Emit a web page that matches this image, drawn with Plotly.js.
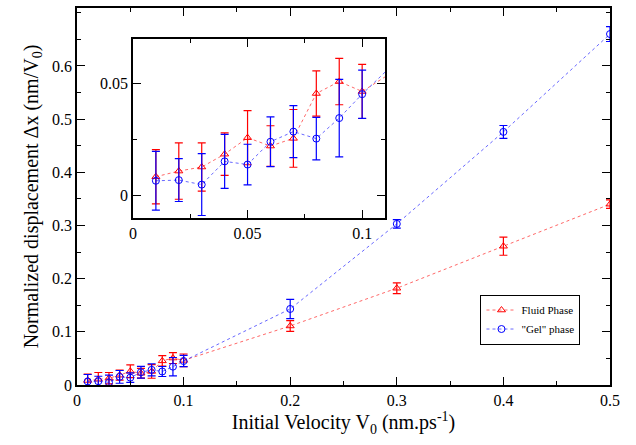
<!DOCTYPE html>
<html>
<head>
<script src="https://cdn.plot.ly/plotly-3.0.1.min.js"></script>
<style>body{margin:0}</style>
</head>
<body>
<div id="plot" style="width:636px;height:445px;"></div>
<script>
var velocity = [0.01,0.02,0.03,0.04,0.05,0.06,0.07,0.08,0.09,0.1,0.2,0.3,0.4,0.5];
var fluidDx  = [0.0085,0.011,0.0128,0.0185,0.0258,0.0221,0.0255,0.0454,0.0507,0.0463,0.111,0.182,0.261,0.34];
var fluidErr = [0.012,0.0125,0.0107,0.0094,0.012,0.009,0.0128,0.010,0.0103,0.012,0.010,0.010,0.017,0.008];
var gelDx    = [0.0067,0.007,0.005,0.0153,0.0139,0.024,0.0285,0.0254,0.0345,0.0451,0.143,0.303,0.476,0.66];
var gelErr   = [0.013,0.0095,0.0137,0.012,0.009,0.011,0.0115,0.0094,0.0172,0.0107,0.018,0.008,0.012,0.014];
var mainYTicks = [0,0.1,0.2,0.3,0.4,0.5,0.6];

var red = '#ff0000', blue = '#0000ff';
function series(y, err, color, sym, name, ax, show){
    return {
        x: velocity, y: y, name: name, showlegend: show,
        xaxis: 'x' + ax, yaxis: 'y' + ax,
        mode: 'lines+markers', type: 'scatter',
        line: {color: color, width: 0.6, dash: 'dot'},
        marker: {symbol: sym, size: 7, color: color, line: {color: color, width: 1}},
        error_y: {type: 'data', array: err, color: color, thickness: 1.2, width: 4}
    };
}
var data = [
    series(fluidDx, fluidErr, red, 'triangle-up-open', 'Fluid Phase', '', true),
    series(gelDx, gelErr, blue, 'circle-open', '"Gel" phase', '', true),
    series(fluidDx, fluidErr, red, 'triangle-up-open', 'Fluid Phase', '2', false),
    series(gelDx, gelErr, blue, 'circle-open', '"Gel" phase', '2', false)
];
var fam = '"Liberation Serif", "DejaVu Serif", serif';
var font = {family: fam, color: '#000', size: 16};
var axBase = {showgrid: false, zeroline: false, showline: true, mirror: 'ticks', linecolor: '#000', linewidth: 1.5,
    ticks: 'inside', ticklen: 8, tickwidth: 1, tickcolor: '#000'};
var layout = {
    width: 636, height: 445,
    margin: {l: 77, r: 26, t: 8, b: 60},
    font: font, plot_bgcolor: '#fff', paper_bgcolor: '#fff',
    showlegend: true,
    legend: {x: 0.757, y: 0.24, xanchor: 'left', yanchor: 'top', bgcolor: '#fff', bordercolor: '#000', borderwidth: 1,
        font: {family: fam, size: 11}, tracegroupgap: 0},
    xaxis: Object.assign({}, axBase, {range: [0, 0.5], dtick: 0.1, tickformat: '.1~f', domain: [0, 1],
        minor: {ticks: 'inside', ticklen: 4, dtick: 0.05, tickcolor: '#000'},
        title: {text: 'Initial Velocity V<sub>0</sub> (nm.ps<sup>-1</sup>)', font: {family: fam, size: 20}, standoff: 6}}),
    yaxis: Object.assign({}, axBase, {range: [0, 0.709], tickmode: 'array', tickvals: mainYTicks, tickformat: '.1~f',
        minor: {ticks: 'inside', ticklen: 4, dtick: 0.05, tickcolor: '#000'},
        title: {text: 'Normalized displacement Δx (nm/V<sub>0</sub>)', font: {family: fam, size: 20}, standoff: 8}}),
    xaxis2: Object.assign({}, axBase, {anchor: 'y2', domain: [0.105, 0.578], range: [0, 0.11], dtick: 0.05, tickformat: '~g',
        minor: {ticks: 'inside', ticklen: 4, dtick: 0.025, tickcolor: '#000'}}),
    yaxis2: Object.assign({}, axBase, {anchor: 'x2', domain: [0.443, 0.918], range: [-0.0098, 0.0696], dtick: 0.05, tickformat: '~g',
        minor: {ticks: 'inside', ticklen: 4, dtick: 0.025, tickcolor: '#000'}}),
    shapes: [{type: 'rect', xref: 'paper', yref: 'paper', x0: 0.105, x1: 0.578, y0: 0.443, y1: 0.918,
        fillcolor: '#fff', line: {width: 0}, layer: 'below'}]
};
Plotly.newPlot('plot', data, layout, {displayModeBar: false});
</script>
</body>
</html>
